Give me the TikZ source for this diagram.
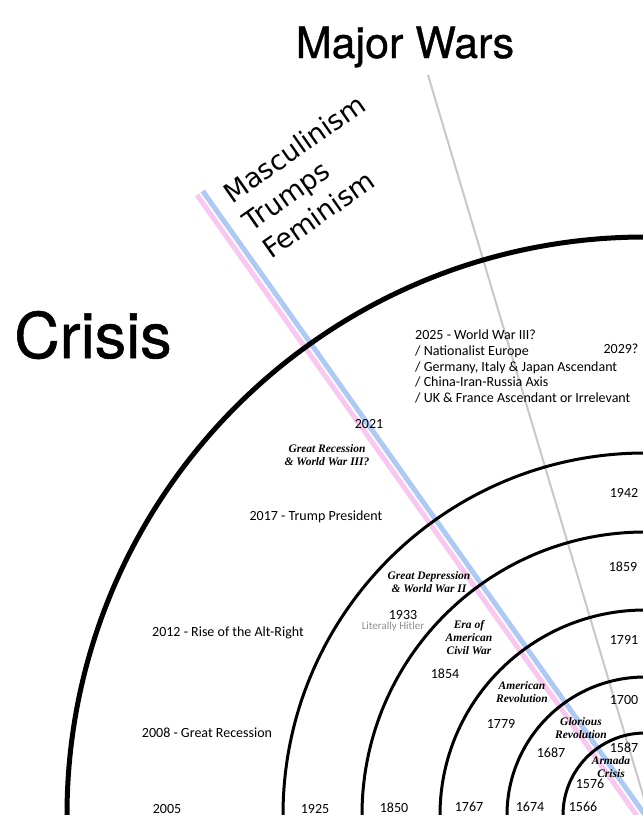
\documentclass[tikz,border=0pt]{standalone}
\usepackage{fontspec}
\setmainfont{Carlito}
\newfontfamily\headfont{TeX Gyre Heros}[FakeBold=0.8]
\newfontfamily\rotfont{DejaVu Sans}
\newfontfamily\erafont{Liberation Serif}
\definecolor{pinkband}{HTML}{F8C8F0}
\definecolor{blueband}{HTML}{AECAF4}
\definecolor{grayline}{HTML}{C8C8C8}
\definecolor{hitlergray}{HTML}{8F8F8F}
\tikzset{
  yearlbl/.style={font=\fontsize{14}{16}\selectfont, inner sep=0pt, anchor=base},
  eralbl/.style={font=\erafont\bfseries\itshape\fontsize{11.5}{13}\selectfont, align=center, inner sep=0pt, anchor=center},
  ring/.style={line width=3pt},
  outerring/.style={line width=5pt},
  band/.style={line width=5pt},
  title/.style={font=\headfont\fontsize{43}{50}\selectfont, inner sep=0pt, anchor=base},
}
\begin{document}
\begin{tikzpicture}[x=1pt,y=-1pt]
\useasboundingbox (0,0) rectangle (643,815);
\fill[white] (0,0) rectangle (643,815);
\coordinate (ctr) at (645,815);
\coordinate (pinkA) at (197,195);
\coordinate (pinkB) at (640,820);
\coordinate (blueA) at (202.7,191);
\coordinate (blueB) at (645.7,816);
\coordinate (grayA) at (428,75);
\coordinate (grayB) at (646,805);
\begin{scope}
\clip (0,0) rectangle (643,815);
\draw[grayline, line width=2pt] (grayA) -- (grayB);
\draw[band, pinkband] (pinkA) -- (pinkB);
\draw[band, blueband] (blueA) -- (blueB);
\draw[outerring] (ctr) circle[radius=578pt];
\draw[ring] (ctr) circle[radius=362pt];
\draw[ring] (ctr) circle[radius=283pt];
\draw[ring] (ctr) circle[radius=205pt];
\draw[ring] (ctr) circle[radius=138pt];
\draw[ring] (ctr) circle[radius=82pt];
\end{scope}
% titles
\node[title] (wars) at (405,58) {Major Wars};
\node[title, font=\headfont\fontsize{63}{70}\selectfont] (crisis) at (93,358) {Crisis};
\node[font=\rotfont\fontsize{27}{34}\selectfont, align=left, inner sep=0pt, rotate=35, anchor=base west] (mtf) at (271,260) {Masculinism\\Trumps\\Feminism};
% forecast block
\node[font=\fontsize{14}{15.75}\selectfont, align=left, inner sep=0pt, anchor=base west] (ww3) at (415,402.5) {2025 - World War III?\\/ Nationalist Europe\\/ Germany, Italy \& Japan Ascendant\\/ China-Iran-Russia Axis\\/ UK \& France Ascendant or Irrelevant};
\node[yearlbl] (y2029) at (621,353.5) {2029?};
% years
\node[yearlbl] (y2021) at (369,428.5) {2021};
\node[yearlbl] (y2017) at (316,520.5) {2017 - Trump President};
\node[yearlbl] (y2012) at (228,636.5) {2012 - Rise of the Alt-Right};
\node[yearlbl] (y2008) at (207,737.5) {2008 - Great Recession};
\node[yearlbl] (y2005) at (167,813) {2005};
\node[yearlbl] (y1942) at (624,497.5) {1942};
\node[yearlbl] (y1933) at (403,619.5) {1933};
\node[yearlbl, font=\fontsize{11}{12}\selectfont, text=hitlergray] (hitler) at (393,629.5) {Literally Hitler};
\node[yearlbl] (y1925) at (315,813) {1925};
\node[yearlbl] (y1859) at (623,571.5) {1859};
\node[yearlbl] (y1854) at (445,678.5) {1854};
\node[yearlbl] (y1850) at (394,812.5) {1850};
\node[yearlbl] (y1791) at (624,644.5) {1791};
\node[yearlbl] (y1779) at (501,728.5) {1779};
\node[yearlbl] (y1767) at (469,811.5) {1767};
\node[yearlbl] (y1700) at (624,704.5) {1700};
\node[yearlbl] (y1687) at (551,757.5) {1687};
\node[yearlbl] (y1674) at (530,811.5) {1674};
\node[yearlbl] (y1587) at (624,752.5) {1587};
\node[yearlbl] (y1576) at (590,788.5) {1576};
\node[yearlbl] (y1566) at (583,811.5) {1566};
% eras
\node[eralbl] (eraA) at (327,455) {Great Recession\\\& World War III?};
\node[eralbl] (eraB) at (429,582.5) {Great Depression\\\& World War II};
\node[eralbl] (eraC) at (469,638) {Era of\\American\\Civil War};
\node[eralbl] (eraD) at (522,692) {American\\Revolution};
\node[eralbl] (eraE) at (581,728.5) {Glorious\\Revolution};
\node[eralbl] (eraF) at (611,767) {Armada\\Crisis};
\end{tikzpicture}
\end{document}
